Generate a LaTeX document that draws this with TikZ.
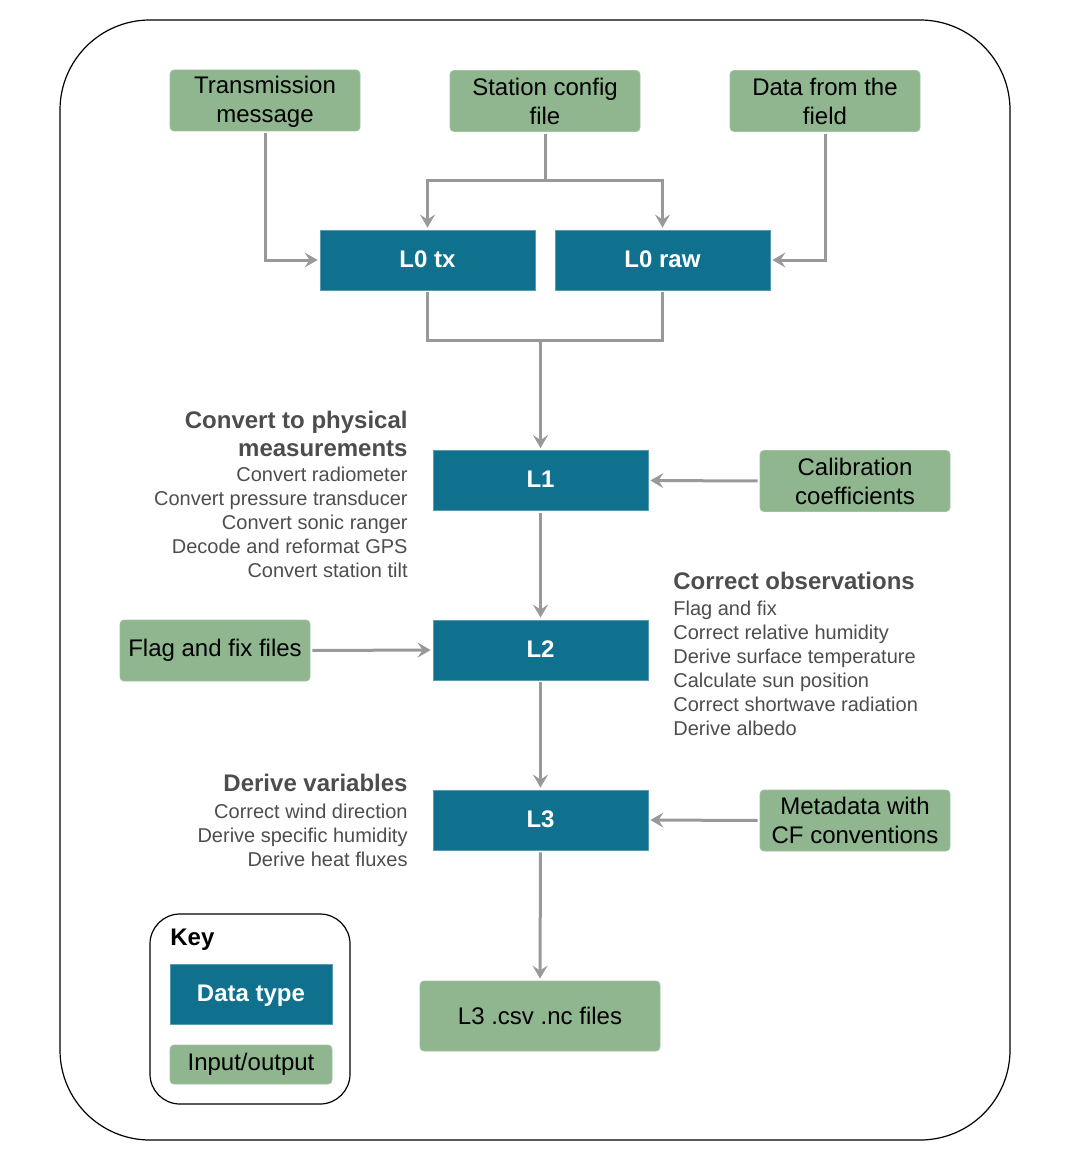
\documentclass[tikz,border=0pt]{standalone}
\usepackage{fontspec}
\setmainfont{Liberation Sans}
\usetikzlibrary{arrows.meta,positioning}

\definecolor{iogreen}{RGB}{143,182,143}
\definecolor{datblue}{RGB}{16,113,143}
\definecolor{linegrey}{RGB}{153,153,153}
\definecolor{notegrey}{RGB}{77,77,77}

\tikzset{
	iobox/.style={fill=iogreen, draw=iogreen!85!white, rounded corners=2pt, minimum width=95pt, minimum height=30.5pt, inner sep=0pt, align=center, font=\fontsize{12}{14.5}\selectfont},
	datbox/.style={fill=datblue, draw=datblue!70!white, minimum width=107.5pt, minimum height=30pt, inner sep=0pt, text height=0.72em, text depth=0pt, text=white, font=\bfseries\fontsize{12}{14.5}\selectfont},
	flow/.style={draw=linegrey, line width=1.5pt, -{Stealth[length=6.5pt,width=7.5pt,inset=2.5pt]}, shorten >=1pt, shorten <=1pt},
	link/.style={draw=linegrey, line width=1.5pt},
	notehead/.style={inner sep=0pt, text=notegrey, font=\bfseries\fontsize{12}{14}\selectfont},
	notelist/.style={inner sep=0pt, text=notegrey, font=\fontsize{10}{12}\selectfont},
}

\begin{document}
\begin{tikzpicture}[x=0.5pt,y=-0.5pt]
	\useasboundingbox (0,0) rectangle (1071,1161);
	\draw[rounded corners=45pt, line width=0.6pt] (60,20) rectangle (1010,1140);
	
	% inputs
	\node[iobox] (tmsg) at (265,100.5) {\strut Transmission\\message};
	\node[iobox] (scfg) at (545,101) {Station config\\file};
	\node[iobox] (field) at (825,101) {Data from the\\field};
	
	% data levels
	\node[datbox] (l0tx) at (427.5,260) {L0 tx};
	\node[datbox] (l0raw) at (662.5,260) {L0 raw};
	\node[datbox] (l1) at (540.5,480.5) {L1};
	\node[datbox] (l2) at (540.5,650) {L2};
	\node[datbox] (l3) at (540.5,820) {L3};
	
	\node[iobox] (calib) at (855,481) {Calibration\\coefficients};
	\node[iobox] (flagfix) at (215,650.5) {Flag and fix files};
	\node[iobox] (meta) at (855,820.5) {Metadata with\\CF conventions};
	\node[iobox, minimum width=120pt, minimum height=35pt] (out) at (540,1016) {L3 .csv .nc files};
	
	% processing notes
	\node[notehead, align=right, anchor=north east] (convhd) at (408,411) {Convert to physical\\measurements};
	\node[notelist, align=right, anchor=north east] (convls) at (408,467) {Convert radiometer\\Convert pressure transducer\\Convert sonic ranger\\Decode and reformat GPS\\Convert station tilt};
	\node[notehead, anchor=north west] (corrhd) at (673,572) {Correct observations};
	\node[notelist, align=left, anchor=north west] (corrls) at (673,601) {Flag and fix\\Correct relative humidity\\Derive surface temperature\\Calculate sun position\\Correct shortwave radiation\\Derive albedo};
	\node[notehead, anchor=north east] (derhd) at (408,774) {Derive variables};
	\node[notelist, align=right, anchor=north east] (derls) at (408,804) {Correct wind direction\\Derive specific humidity\\Derive heat fluxes};
	
	% connectors
	\draw[flow] (tmsg.south) |- (l0tx.west);
	\draw[flow] (field.south) |- (l0raw.east);
	\coordinate (split) at (545,180);
	\draw[link, shorten <=1pt] (scfg.south) -- (split);
	\draw[flow, shorten <=0pt] (split) -| (l0tx.north);
	\draw[flow, shorten <=0pt] (split) -| (l0raw.north);
	\coordinate (merge) at (540.5,340);
	\draw[link, shorten <=1pt, shorten >=1pt] (l0tx.south) |- (merge) -| (l0raw.south);
	\draw[flow, shorten <=0pt] (merge) -- (l1.north);
	\draw[flow] (calib.west) -- (l1.east);
	\draw[flow] (l1.south) -- (l2.north);
	\draw[flow] (flagfix.east) -- (l2.west);
	\draw[flow] (l2.south) -- (l3.north);
	\draw[flow] (meta.west) -- (l3.east);
	\draw[flow] (l3.south) -- (out.north);
	
	% key
	\draw[rounded corners=15pt, line width=0.6pt] (150,914) rectangle (350,1104);
	\node[inner sep=0pt, anchor=west, font=\bfseries\fontsize{12}{14}\selectfont] (keylbl) at (170,940) {Key};
	\node[datbox, minimum width=81pt] (keydat) at (251,994) {Data type};
	\node[iobox, minimum width=81pt, minimum height=19.5pt] (keyio) at (251,1064.5) {Input/output};
\end{tikzpicture}
\end{document}
